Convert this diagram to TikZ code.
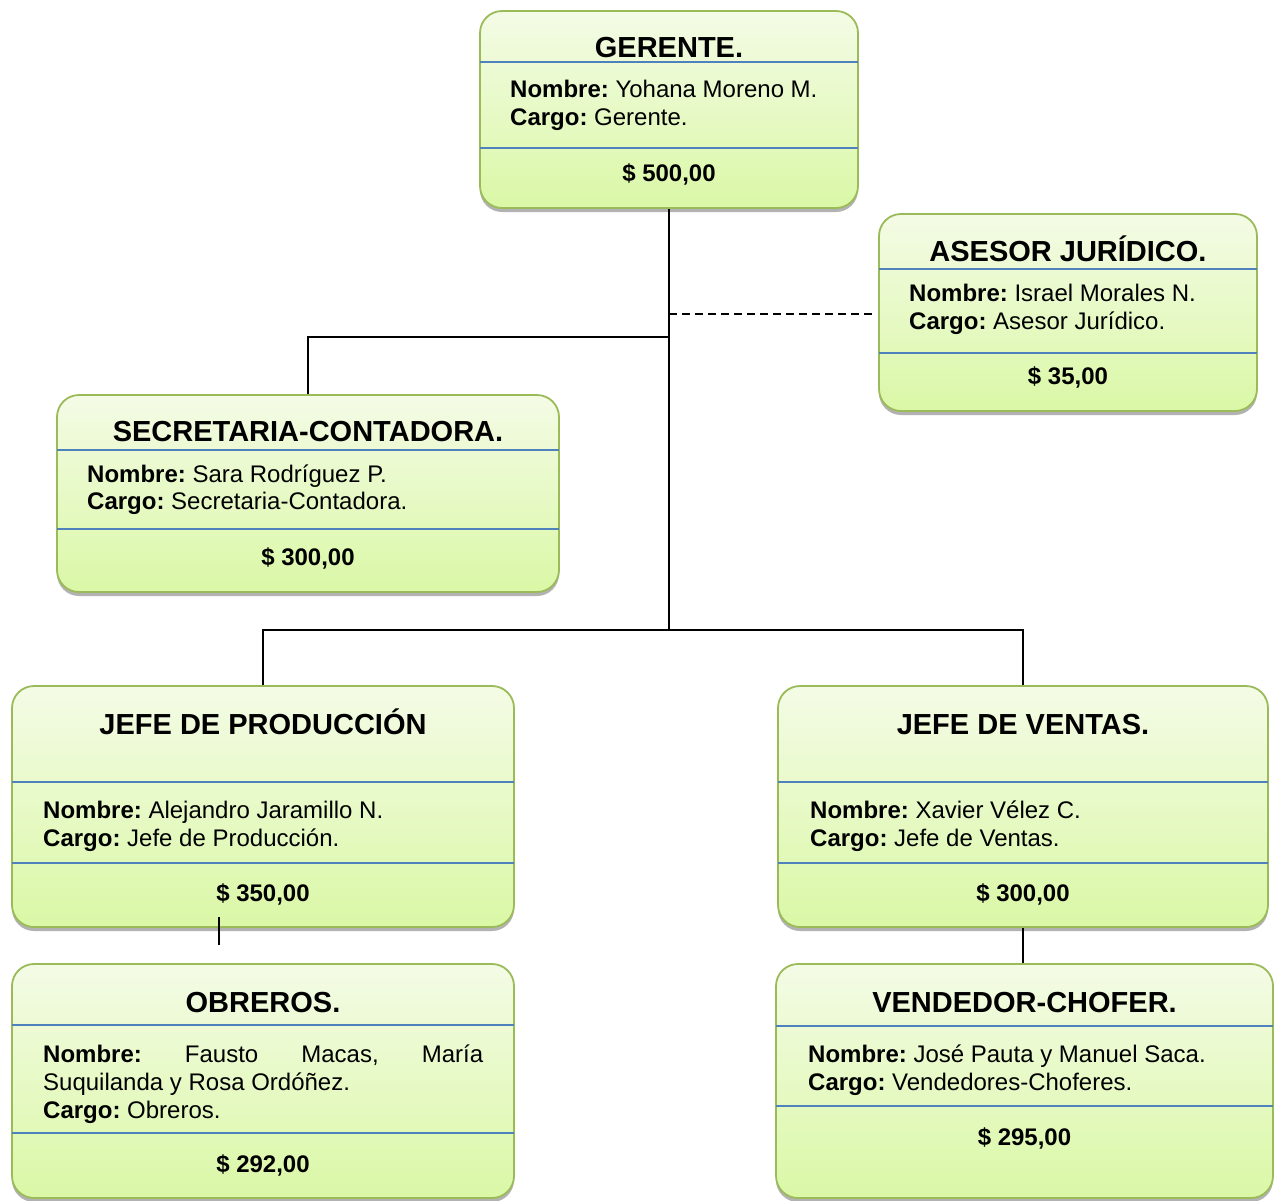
\documentclass[tikz,border=0pt]{standalone}
\usepackage{fontspec}
\setmainfont{Liberation Sans}
\usetikzlibrary{shadows}
\definecolor{bordergreen}{HTML}{9BBB59}
\definecolor{topgreen}{HTML}{F4FBE6}
\definecolor{botgreen}{HTML}{DAF8A6}
\definecolor{divblue}{HTML}{4F81BD}
\frenchspacing
\begin{document}
\begin{tikzpicture}[x=1pt,y=-1pt,
  orgbox/.style={draw=bordergreen, line width=1.8pt, rounded corners=22pt,
    top color=topgreen, bottom color=botgreen, inner sep=0pt,
    drop shadow={shadow xshift=0pt, shadow yshift=-4pt, opacity=0.3, fill=black}},
  divider/.style={draw=divblue, line width=1.6pt},
  title/.style={font=\fontsize{29}{34}\selectfont\bfseries, anchor=base, inner sep=0pt},
  body/.style={font=\fontsize{24}{28}\selectfont\frenchspacing, anchor=base west, inner sep=0pt},
  salary/.style={font=\fontsize{24}{28}\selectfont\bfseries, anchor=base, inner sep=0pt},
  link/.style={draw=black, line width=1.5pt},
  dashlink/.style={draw=black, line width=1.5pt, dash pattern=on 8pt off 5pt}
]
\useasboundingbox (0,0) rectangle (1280,1200);
\clip (0,0) rectangle (1280,1200);

% boxes
\node[orgbox, minimum width=378pt, minimum height=197pt] (ger) at (669,109.5) {};
\node[orgbox, minimum width=378pt, minimum height=197pt] (ase) at (1068,312.5) {};
\node[orgbox, minimum width=502pt, minimum height=197pt] (sec) at (308,493.5) {};
\node[orgbox, minimum width=502pt, minimum height=241pt] (jp) at (263,806.5) {};
\node[orgbox, minimum width=490pt, minimum height=241pt] (jv) at (1023,806.5) {};
\node[orgbox, minimum width=502pt, minimum height=234pt] (ob) at (263,1081) {};
\node[orgbox, minimum width=497pt, minimum height=234pt] (vc) at (1024.5,1081) {};

% dividers
\draw[divider] (480,62) -- (858,62);
\draw[divider] (480,148) -- (858,148);
\draw[divider] (879,269) -- (1257,269);
\draw[divider] (879,353) -- (1257,353);
\draw[divider] (57,450) -- (559,450);
\draw[divider] (57,529) -- (559,529);
\draw[divider] (12,782) -- (514,782);
\draw[divider] (12,863) -- (514,863);
\draw[divider] (778,782) -- (1268,782);
\draw[divider] (778,863) -- (1268,863);
\draw[divider] (12,1025) -- (514,1025);
\draw[divider] (12,1133) -- (514,1133);
\draw[divider] (776,1026) -- (1273,1026);
\draw[divider] (776,1106) -- (1273,1106);

% GERENTE
\node[title] (gerT) at (669,57.5) {GERENTE.};
\node[body] (gerN) at (510,97.5) {\textbf{Nombre:} Yohana Moreno M.};
\node[body] (gerC) at (510,125.5) {\textbf{Cargo:} Gerente.};
\node[salary] (gerS) at (669,181.5) {\$ 500,00};

% ASESOR
\node[title] (aseT) at (1068,261.5) {ASESOR JURÍDICO.};
\node[body] (aseN) at (909,301.5) {\textbf{Nombre:} Israel Morales N.};
\node[body] (aseC) at (909,329.5) {\textbf{Cargo:} Asesor Jurídico.};
\node[salary] (aseS) at (1068,384.5) {\$ 35,00};

% SECRETARIA
\node[title] (secT) at (308,441.5) {SECRETARIA-CONTADORA.};
\node[body] (secN) at (87,482.5) {\textbf{Nombre:} Sara Rodríguez P.};
\node[body] (secC) at (87,509.5) {\textbf{Cargo:} Secretaria-Contadora.};
\node[salary] (secS) at (308,565.5) {\$ 300,00};

% JEFE DE PRODUCCION
\node[title] (jpT) at (263,734.5) {JEFE DE PRODUCCIÓN};
\node[body] (jpN) at (43,818.5) {\textbf{Nombre:} Alejandro Jaramillo N.};
\node[body] (jpC) at (43,846.5) {\textbf{Cargo:} Jefe de Producción.};
\node[salary] (jpS) at (263,901.5) {\$ 350,00};

% JEFE DE VENTAS
\node[title] (jvT) at (1023,734.5) {JEFE DE VENTAS.};
\node[body] (jvN) at (810,818.5) {\textbf{Nombre:} Xavier Vélez C.};
\node[body] (jvC) at (810,846.5) {\textbf{Cargo:} Jefe de Ventas.};
\node[salary] (jvS) at (1023,901.5) {\$ 300,00};

% OBREROS
\node[title] (obT) at (263,1012.5) {OBREROS.};
\node[body] (obN) at (43,1062.5) {\makebox[440pt][s]{\textbf{Nombre:} Fausto Macas, María}};
\node[body] (obN2) at (43,1090.5) {Suquilanda y Rosa Ordóñez.};
\node[body] (obC) at (43,1118.5) {\textbf{Cargo:} Obreros.};
\node[salary] (obS) at (263,1172.5) {\$ 292,00};

% VENDEDOR-CHOFER
\node[title] (vcT) at (1024.5,1012.5) {VENDEDOR-CHOFER.};
\node[body] (vcN) at (808,1062.5) {\textbf{Nombre:} José Pauta y Manuel Saca.};
\node[body] (vcC) at (808,1090.5) {\textbf{Cargo:} Vendedores-Choferes.};
\node[salary] (vcS) at (1024.5,1145.5) {\$ 295,00};

% connectors
\coordinate (jb) at (669,630);
\coordinate (js) at (669,337);
\coordinate (jd) at (669,314);
\coordinate (jdEnd) at (873,314);
\coordinate (obTop) at (219,917);
\coordinate (obEnd) at (219,945);

\draw[link] (ger.south) -- (jb);
\draw[link] (sec.north) |- (js);
\draw[dashlink] (jd) -- (jdEnd);
\draw[link] (jp.north) |- (jb) -| (jv.north);
\draw[link] (obTop) -- (obEnd);
\draw[link] (jv.south) -- (jv.south |- vc.north);
\end{tikzpicture}
\end{document}
